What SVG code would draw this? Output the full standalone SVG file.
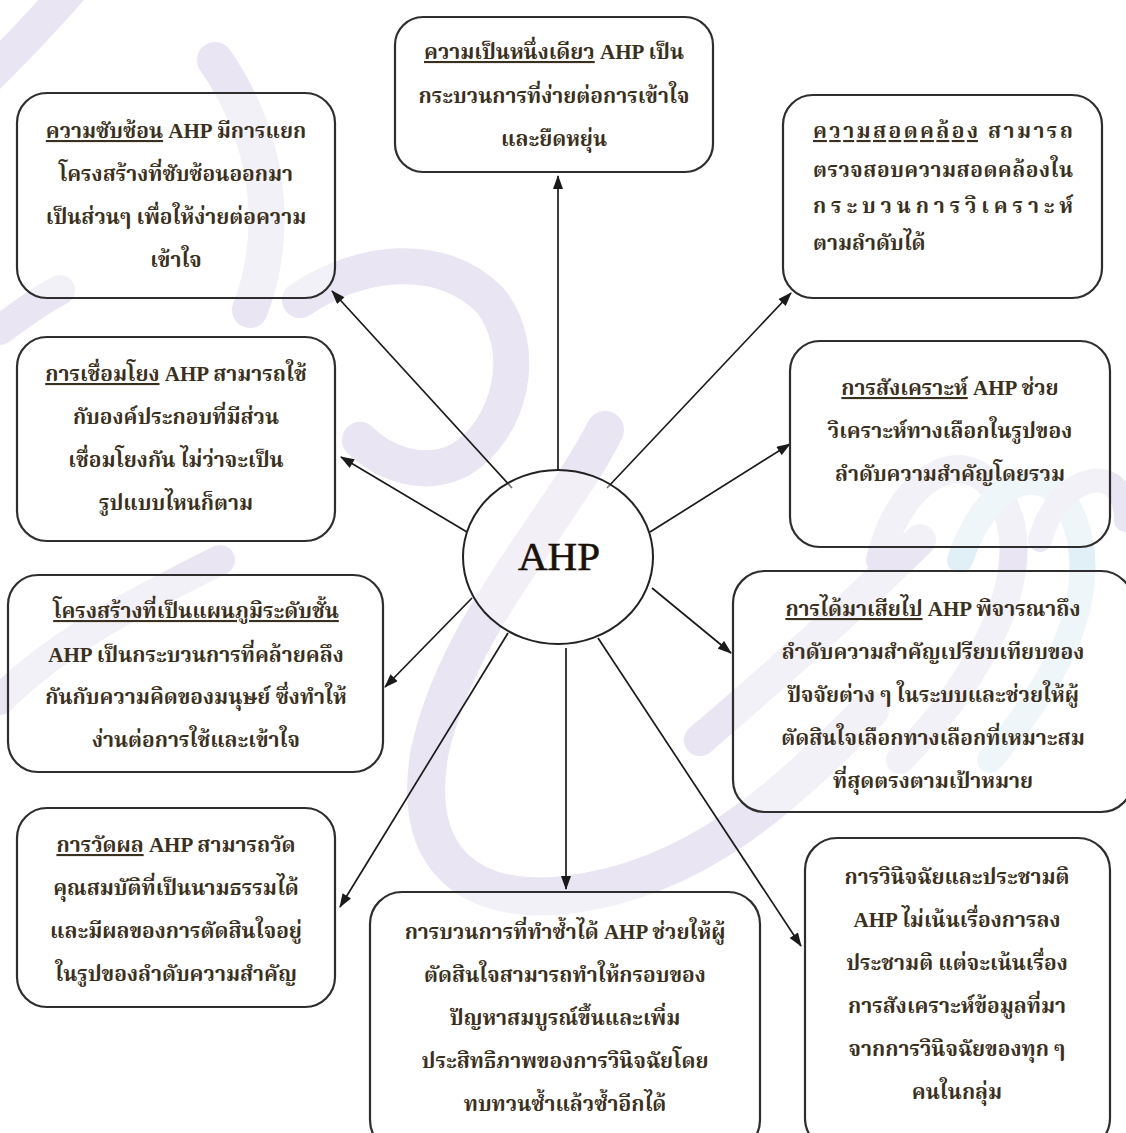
<svg xmlns="http://www.w3.org/2000/svg" width="1126" height="1133" viewBox="0 0 1126 1133">
<defs>
<marker id="ah" viewBox="0 0 14 10" refX="13" refY="5" markerWidth="15" markerHeight="10" markerUnits="userSpaceOnUse" orient="auto">
<path d="M0,0 L14,5 L0,10 Z" fill="#1a1a1a"/>
</marker>
<style>
.box{fill:#fff;fill-opacity:0.45;stroke:#2e2e2e;stroke-width:2.2}
.t{font-family:"Liberation Serif","Noto Serif Thai","Noto Sans Thai",Tahoma,serif;font-size:21px;font-weight:bold;fill:#3a3020;text-anchor:middle}
.ul{text-decoration:underline}
.c{stroke:#1a1a1a;stroke-width:1.7;fill:none;marker-end:url(#ah)}
.wm{fill:none;stroke:#e9e5f2;stroke-linecap:round}
.wb{fill:none;stroke:#e1eff6;stroke-linecap:round}
</style>
</defs>
<rect width="1126" height="1133" fill="#fff"/>
<g id="watermark">
<path class="wm" stroke-width="34" d="M70,-10 C40,25 15,50 -10,75"/>
<path class="wm" stroke-width="36" d="M215,60 C270,140 280,230 250,310"/>
<path class="wm" stroke-width="36" d="M300,300 C360,260 440,250 490,300 C530,350 510,430 460,460 C420,480 380,460 360,440"/>
<path class="wm" stroke-width="38" d="M605,430 C560,520 460,620 430,750 C410,860 470,905 565,895 C700,880 790,790 870,710"/>
<path class="wm" stroke-width="32" d="M700,740 C770,680 850,610 920,540"/>
<path class="wm" stroke-width="28" d="M880,560 C900,470 980,430 1010,520 C1030,600 960,700 900,760"/>
<path class="wb" stroke-width="26" d="M960,560 C990,470 1060,450 1080,540 C1095,620 1040,700 990,760"/>
<path class="wm" stroke-width="24" d="M1040,540 C1060,470 1126,460 1126,520"/>
<path class="wm" stroke-width="30" d="M0,700 C60,640 140,600 220,560"/>
<path class="wm" stroke-width="30" d="M0,330 C20,315 40,300 60,290"/>
</g>
<g id="connectors">
<line class="c" x1="558" y1="470" x2="558" y2="176"/>
<line class="c" x1="512" y1="488" x2="332" y2="291"/>
<line class="c" x1="607" y1="488" x2="791" y2="293"/>
<line class="c" x1="467" y1="532" x2="341" y2="457"/>
<line class="c" x1="650" y1="532" x2="790" y2="444"/>
<line class="c" x1="472" y1="598" x2="385" y2="687"/>
<line class="c" x1="652" y1="588" x2="731" y2="653"/>
<line class="c" x1="508" y1="633" x2="340" y2="907"/>
<line class="c" x1="566" y1="648" x2="566" y2="889"/>
<line class="c" x1="598" y1="638" x2="801" y2="946"/>
</g>
<g id="ahp">
<ellipse cx="558" cy="557" rx="95" ry="87" fill="#fff" fill-opacity="0.4" stroke="#222" stroke-width="2"/>
<text x="559" y="570" style="font-family:'Liberation Serif',serif;font-size:41px;fill:#1a1208;stroke:#1a1208;stroke-width:0.6;text-anchor:middle">AHP</text>
</g>
<g id="n1">
<rect class="box" x="395" y="17" width="318" height="155" rx="28"/>
<text class="t" x="554" y="59"><tspan class="ul">ความเป็นหนึ่งเดียว</tspan> AHP เป็น</text>
<text class="t" x="554" y="103">กระบวนการที่ง่ายต่อการเข้าใจ</text>
<text class="t" x="554" y="146">และยืดหยุ่น</text>
</g>
<g id="n2">
<rect class="box" x="17" y="93" width="318" height="205" rx="30"/>
<text class="t" x="176" y="138"><tspan class="ul">ความซับซ้อน</tspan> AHP มีการแยก</text>
<text class="t" x="176" y="181">โครงสร้างที่ซับซ้อนออกมา</text>
<text class="t" x="176" y="224">เป็นส่วนๆ เพื่อให้ง่ายต่อความ</text>
<text class="t" x="176" y="267">เข้าใจ</text>
</g>
<g id="n3">
<rect class="box" x="783" y="95" width="319" height="203" rx="30"/>
<text class="t" x="813" y="138" style="text-anchor:start" textLength="260" lengthAdjust="spacing"><tspan class="ul">ความสอดคล้อง</tspan> สามารถ</text>
<text class="t" x="813" y="177" style="text-anchor:start" textLength="260" lengthAdjust="spacing">ตรวจสอบความสอดคล้องใน</text>
<text class="t" x="813" y="213" style="text-anchor:start" textLength="260" lengthAdjust="spacing">กระบวนการวิเคราะห์</text>
<text class="t" x="813" y="250" style="text-anchor:start">ตามลำดับได้</text>
</g>
<g id="n4">
<rect class="box" x="17" y="337" width="318" height="204" rx="30"/>
<text class="t" x="176" y="381"><tspan class="ul">การเชื่อมโยง</tspan> AHP สามารถใช้</text>
<text class="t" x="176" y="424">กับองค์ประกอบที่มีส่วน</text>
<text class="t" x="176" y="467">เชื่อมโยงกัน ไม่ว่าจะเป็น</text>
<text class="t" x="176" y="510">รูปแบบไหนก็ตาม</text>
</g>
<g id="n5">
<rect class="box" x="790" y="341" width="320" height="206" rx="30"/>
<text class="t" x="950" y="395"><tspan class="ul">การสังเคราะห์</tspan> AHP ช่วย</text>
<text class="t" x="950" y="438">วิเคราะห์ทางเลือกในรูปของ</text>
<text class="t" x="950" y="481">ลำดับความสำคัญโดยรวม</text>
</g>
<g id="n6">
<rect class="box" x="8" y="575" width="375" height="197" rx="30"/>
<text class="t" x="196" y="618"><tspan class="ul">โครงสร้างที่เป็นแผนภูมิระดับชั้น</tspan></text>
<text class="t" x="196" y="662">AHP เป็นกระบวนการที่คล้ายคลึง</text>
<text class="t" x="196" y="704">กันกับความคิดของมนุษย์ ซึ่งทำให้</text>
<text class="t" x="196" y="747">ง่านต่อการใช้และเข้าใจ</text>
</g>
<g id="n7">
<rect class="box" x="733" y="571" width="400" height="241" rx="32"/>
<text class="t" x="933" y="616"><tspan class="ul">การได้มาเสียไป</tspan> AHP พิจารณาถึง</text>
<text class="t" x="933" y="659">ลำดับความสำคัญเปรียบเทียบของ</text>
<text class="t" x="933" y="702">ปัจจัยต่าง ๆ ในระบบและช่วยให้ผู้</text>
<text class="t" x="933" y="745">ตัดสินใจเลือกทางเลือกที่เหมาะสม</text>
<text class="t" x="933" y="788">ที่สุดตรงตามเป้าหมาย</text>
</g>
<g id="n8">
<rect class="box" x="17" y="808" width="318" height="199" rx="30"/>
<text class="t" x="176" y="852"><tspan class="ul">การวัดผล</tspan> AHP สามารถวัด</text>
<text class="t" x="176" y="895">คุณสมบัติที่เป็นนามธรรมได้</text>
<text class="t" x="176" y="938">และมีผลของการตัดสินใจอยู่</text>
<text class="t" x="176" y="981">ในรูปของลำดับความสำคัญ</text>
</g>
<g id="n9">
<rect class="box" x="370" y="892" width="390" height="260" rx="32"/>
<text class="t" x="565" y="939">การบวนการที่ทำซ้ำได้ AHP ช่วยให้ผู้</text>
<text class="t" x="565" y="982">ตัดสินใจสามารถทำให้กรอบของ</text>
<text class="t" x="565" y="1025">ปัญหาสมบูรณ์ขึ้นและเพิ่ม</text>
<text class="t" x="565" y="1068">ประสิทธิภาพของการวินิจฉัยโดย</text>
<text class="t" x="565" y="1111">ทบทวนซ้ำแล้วซ้ำอีกได้</text>
</g>
<g id="n10">
<rect class="box" x="805" y="838" width="305" height="312" rx="32"/>
<text class="t" x="957" y="884">การวินิจฉัยและประชามติ</text>
<text class="t" x="957" y="927">AHP ไม่เน้นเรื่องการลง</text>
<text class="t" x="957" y="970">ประชามติ แต่จะเน้นเรื่อง</text>
<text class="t" x="957" y="1013">การสังเคราะห์ข้อมูลที่มา</text>
<text class="t" x="957" y="1056">จากการวินิจฉัยของทุก ๆ</text>
<text class="t" x="957" y="1099">คนในกลุ่ม</text>
</g>
</svg>
